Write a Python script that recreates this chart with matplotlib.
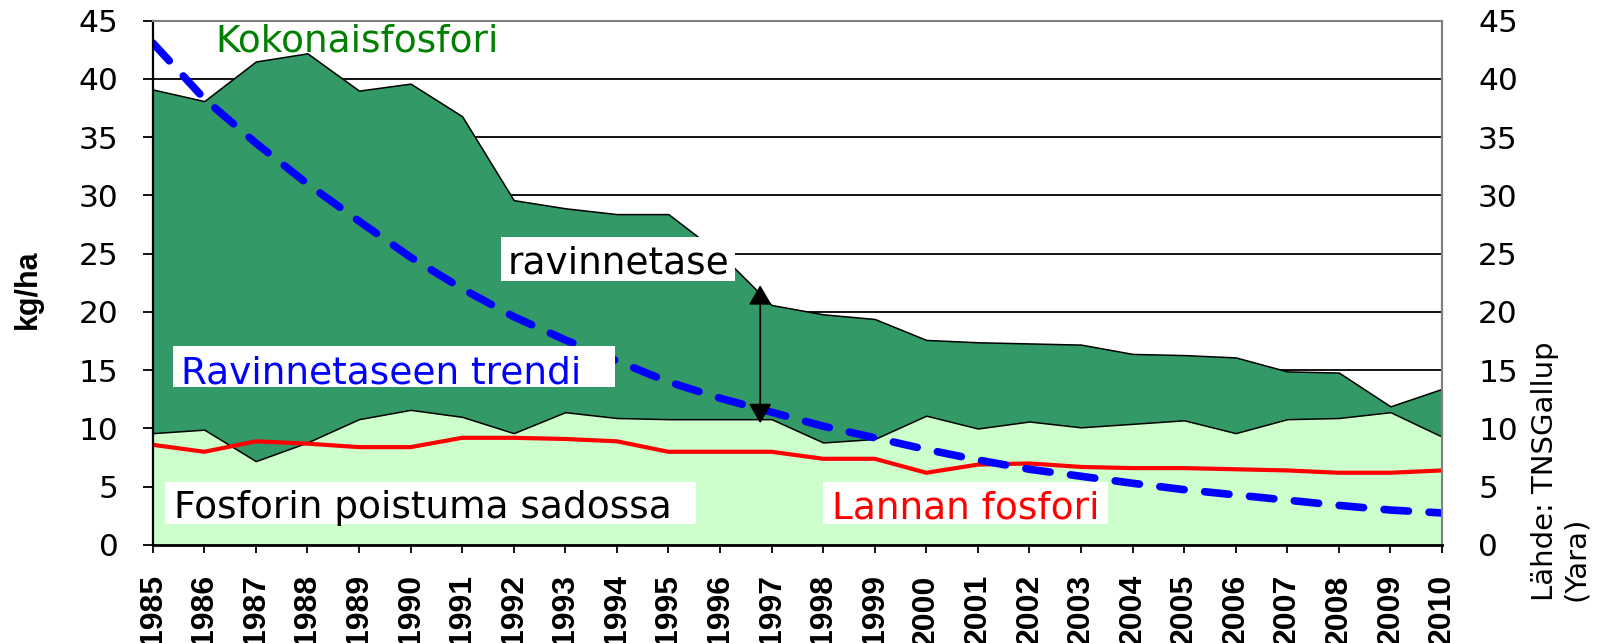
import matplotlib
matplotlib.use("Agg")
import matplotlib.pyplot as plt
from matplotlib.patches import Rectangle

# ---------------- data ----------------
years = list(range(1985, 2011))
year_labels = [str(y) for y in years]

# Kokonaisfosfori (total phosphorus), kg/ha
total_p = [39.1, 38.1, 41.5, 42.2, 39.0, 39.6, 36.8, 29.6, 28.9, 28.4, 28.4, 25.0, 20.6,
           19.8, 19.4, 17.6, 17.4, 17.3, 17.2, 16.4, 16.3, 16.1, 14.9, 14.8, 11.9, 13.4]
# Fosforin poistuma sadossa (removal in yield), kg/ha
removal_p = [9.6, 9.9, 7.2, 8.8, 10.8, 11.6, 11.0, 9.6, 11.4, 10.9, 10.8, 10.8, 10.8,
             8.8, 9.1, 11.1, 10.0, 10.6, 10.1, 10.4, 10.7, 9.6, 10.8, 10.9, 11.4, 9.3]
# Lannan fosfori (manure phosphorus), kg/ha
manure_p = [8.6, 8.0, 8.9, 8.7, 8.4, 8.4, 9.2, 9.2, 9.1, 8.9, 8.0, 8.0, 8.0,
            7.4, 7.4, 6.2, 6.9, 7.0, 6.7, 6.6, 6.6, 6.5, 6.4, 6.2, 6.2, 6.4]
# Ravinnetaseen trendi (balance trend), kg/ha
trend_p = [43.1, 38.3, 34.5, 31.0, 27.8, 24.7, 22.0, 19.6, 17.6, 15.8, 14.0, 12.6, 11.4,
           10.2, 9.2, 8.2, 7.3, 6.5, 5.9, 5.3, 4.75, 4.3, 3.85, 3.4, 3.0, 2.75]

y_ticks = list(range(0, 46, 5))

# balance arrow (ravinnetase) position
arrow_year = 1996.78
arrow_top = 22.3
arrow_bottom = 10.45

# ---------------- figure ----------------
W, H = 1608, 643
fig = plt.figure(figsize=(W / 100, H / 100), dpi=100)
fig.patch.set_facecolor("white")

x0px, x1px, ytop_px, ybot_px = 152.7, 1442.0, 20.7, 545.0
ax = fig.add_axes([x0px / W, (H - ybot_px) / H, (x1px - x0px) / W, (ybot_px - ytop_px) / H])
ax.set_xlim(years[0], years[-1])
ax.set_ylim(0, 45)

DARK = "#339966"
LIGHT = "#CCFFCC"

ax.fill_between(years, 0, total_p, facecolor=DARK, edgecolor="black", lw=1.1, zorder=2)
ax.fill_between(years, 0, removal_p, facecolor=LIGHT, edgecolor="black", lw=1.1, zorder=3)
ax.plot(years, manure_p, color="#FF0000", lw=3, zorder=4, solid_capstyle="butt")
ax.plot(years, trend_p, color="#0000FF", lw=5.5, linestyle=(0, (3.2, 2.7)),
        dash_capstyle="round", zorder=5)

ax.annotate("", xy=(arrow_year, arrow_top), xytext=(arrow_year, arrow_bottom),
            arrowprops=dict(arrowstyle="<|-|>,head_length=0.55,head_width=0.32",
                            color="black", lw=1.3, mutation_scale=22,
                            shrinkA=0, shrinkB=0), zorder=6)

# grid
ax.set_axisbelow(True)
ax.yaxis.grid(True, color="black", lw=1.3)
ax.xaxis.grid(False)

# spines
ax.spines["left"].set_color("black")
ax.spines["left"].set_linewidth(1.6)
ax.spines["bottom"].set_color("black")
ax.spines["bottom"].set_linewidth(2.0)
ax.spines["top"].set_color("#808080")
ax.spines["top"].set_linewidth(1.5)
ax.spines["right"].set_color("#808080")
ax.spines["right"].set_linewidth(1.5)
for s in ax.spines.values():
    s.set_zorder(8)

# ticks
ax.set_yticks(y_ticks)
ax.set_yticklabels([str(v) for v in y_ticks], fontsize=22.5, family="DejaVu Sans")
ax.tick_params(axis="y", direction="out", length=7.2, width=1.3, pad=17.5, colors="black")
ax.set_xticks(years, labels=year_labels, rotation=90, fontsize=23,
              fontweight="bold", family="Liberation Sans")
ax.tick_params(axis="x", direction="out", length=5.5, width=1.3, pad=15.5)

ax2 = ax.secondary_yaxis("right")
ax2.set_yticks(y_ticks)
ax2.set_yticklabels([str(v) for v in y_ticks], fontsize=22.5, family="DejaVu Sans")
ax2.tick_params(axis="y", length=0, pad=26)
ax2.spines["right"].set_color("#808080")
ax2.spines["right"].set_linewidth(1.5)

# y label
fig.text(28 / W, 1 - 289 / H, "kg/ha", rotation=90, fontsize=22, fontweight="bold",
         family="Liberation Sans", ha="center", va="center")

# source text
fig.text(1531 / W, 1 - 601 / H, "Lähde: TNSGallup\n(Yara)", rotation=90, fontsize=21,
         family="DejaVu Sans", ha="left", va="bottom", multialignment="left",
         linespacing=1.15)

# annotation boxes (axes-fraction coords)
def fx(px):
    return (px - x0px) / (x1px - x0px)

def fy(py):
    return (ybot_px - py) / (ybot_px - ytop_px)

def label(text, color, box, tx, tbase):
    if box is not None:
        bx0, bx1, by0, by1 = box
        ax.add_patch(Rectangle((fx(bx0), fy(by1)), fx(bx1) - fx(bx0), fy(by0) - fy(by1),
                               transform=ax.transAxes, facecolor="white",
                               edgecolor="none", zorder=9))
    ax.text(fx(tx), fy(tbase), text, transform=ax.transAxes, color=color,
            fontsize=27, family="DejaVu Sans", ha="left", va="baseline", zorder=10)

label("Kokonaisfosfori", "#008000", None, 215, 51)
label("ravinnetase", "black", (501, 735, 237, 281), 508, 273)
label("Ravinnetaseen trendi", "#0000FF", (172.7, 615, 346, 387.3), 181, 383.3)
label("Fosforin poistuma sadossa", "black", (165, 696, 482, 524), 174, 518.3)
label("Lannan fosfori", "#FF0000", (823, 1108, 482, 524), 832, 518.3)

fig.savefig("out.png", dpi=100, facecolor="white")
